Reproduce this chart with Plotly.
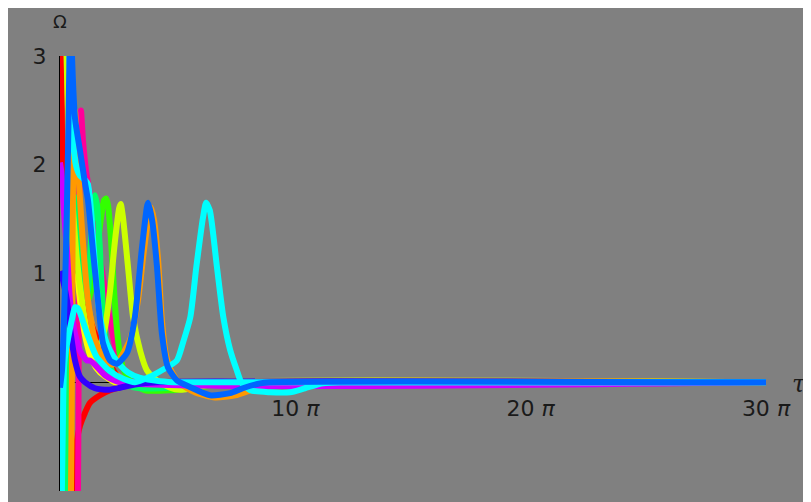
import math
import plotly.graph_objects as go

PI = math.pi
T_END = 30 * PI

# ---- curve data (tau, Omega) ----
red_bottom_tau = [1.6, 1.8, 2.0, 2.27, 2.67, 3.34, 4.0, 5.34, 6.68, 8.01, 10.7, 16.0]
red_bottom_om = [-1.27, -1.0, -0.72, -0.53, -0.40, -0.28, -0.19, -0.12, -0.074, -0.046, -0.018, 0.0]

magenta_tau = [2.27, 2.4, 2.48, 2.56, 2.64, 2.8, 3.07, 3.47, 4.0, 4.67, 5.34, 6.0, 6.68, 7.34, 8.68, 10.0, 12.0, 16.0, 22.7]
magenta_om = [-1.27, -1.0, 0.0, 1.21, 2.22, 2.5, 2.22, 1.95, 1.72, 1.44, 1.14, 0.85, 0.57, 0.34, 0.11, 0.01, -0.046, -0.028, 0.0]

orange_top_tau = [0.33, 0.47, 0.67, 0.93, 1.34, 2.0, 2.94, 4.0, 5.34, 6.68, 8.68, 12.0, 18.7]
orange_top_om = [3.33, 3.0, 2.59, 2.23, 1.95, 1.54, 1.03, 0.62, 0.29, 0.13, 0.018, -0.028, 0.0]

yellow_bottom_tau = [1.13, 1.27, 1.36, 1.47, 1.67, 2.0, 2.67, 3.34, 4.27, 5.34, 7.34, 9.35, 13.35, 18.7]
yellow_bottom_om = [-1.27, -1.0, 0.0, 0.94, 1.4, 1.21, 0.75, 0.43, 0.2, 0.09, 0.0, -0.037, -0.028, 0.0]

red_top_tau = [0.07, 0.13, 0.27, 0.40, 0.67, 0.93, 1.34, 1.74, 2.67, 4.0, 5.34, 6.0, 6.94, 8.01, 9.35, 12.0, 16.0, 21.4]
red_top_om = [3.3, 3.0, 2.32, 2.0, 1.77, 1.63, 1.51, 1.38, 0.94, 0.57, 0.34, 0.25, 0.13, 0.02, -0.04, -0.04, -0.01, 0.0]

green_tau = [0.8, 1.0, 1.13, 1.27, 1.47, 1.74, 2.14, 2.67, 3.2, 3.74, 4.27, 4.8, 5.34, 5.87, 6.14, 6.41, 6.81, 7.21, 7.61, 8.01, 8.68, 9.61, 11.35, 14.7, 18.7, 24.0]
green_om = [-1.27, -1.0, -0.17, 0.57, 1.03, 1.17, 1.12, 0.94, 0.75, 0.75, 0.89, 1.12, 1.44, 1.67, 1.69, 1.63, 1.31, 0.85, 0.48, 0.25, 0.09, 0.0, -0.074, -0.074, -0.046, -0.01]

spring_tau = [0.6, 0.73, 0.87, 1.07, 1.34, 1.74, 2.14, 2.54, 2.94, 3.34, 3.74, 4.14, 4.47, 4.67, 4.94, 5.34, 5.74, 6.14, 6.68, 7.34, 8.68, 10.7, 13.35, 17.4, 22.7]
spring_om = [-1.27, -1.0, -0.17, 0.75, 1.4, 1.72, 1.67, 1.31, 0.94, 0.75, 0.85, 1.31, 1.67, 1.72, 1.63, 1.21, 0.66, 0.34, 0.16, 0.037, -0.028, -0.055, -0.055, -0.037, -0.01]

lime_tau = [0.73, 0.87, 1.07, 1.34, 1.74, 2.27, 2.94, 3.74, 4.67, 5.34, 6.0, 6.68, 7.34, 7.9, 8.1, 8.4, 9.08, 9.75, 10.7, 11.6, 12.95, 14.7, 16.0, 18.7, 21.4]
lime_om = [3.3, 3.0, 2.5, 2.04, 1.58, 1.12, 0.75, 0.44, 0.33, 0.35, 0.5, 0.84, 1.3, 1.6, 1.64, 1.52, 1.06, 0.6, 0.29, 0.11, 0.018, -0.05, -0.07, -0.04, 0.0]

orange_peak_tau = [1.34, 1.47, 1.58, 1.67, 1.8, 2.0, 2.27, 2.94, 3.74, 4.67, 6.0, 6.94, 8.01, 9.35, 10.4, 11.2, 11.9, 12.15, 12.55, 13.1, 13.6, 14.15, 14.95, 16.0, 18.0, 20.7, 23.4, 25.4, 27.4, 29.4]
orange_peak_om = [-1.27, -1.0, 0.0, 1.21, 2.22, 2.5, 2.13, 1.4, 0.75, 0.39, 0.2, 0.16, 0.22, 0.39, 0.75, 1.21, 1.56, 1.61, 1.49, 1.12, 0.57, 0.25, 0.09, -0.01, -0.092, -0.14, -0.12, -0.074, -0.028, 0.0]

purple_tau = [0.0, 0.2, 0.5, 0.93, 1.34, 2.0, 2.67, 3.6, 4.0, 4.67, 6.0, 8.0]
purple_om = [2.02, 1.92, 1.6, 1.21, 0.75, 0.45, 0.29, 0.2, 0.2, 0.16, 0.064, 0.0]

blue_tau = [0.0, 0.27, 0.93, 1.34, 2.0, 2.67, 3.34, 4.67, 6.4, 8.0, 10.0, 13.0]
blue_om = [1.02, 0.97, 0.75, 0.5, 0.2, 0.05, 0.0, -0.055, -0.07, -0.05, -0.02, 0.0]

cyan_top_tau = [1.14, 1.27, 1.47, 1.74, 2.14, 2.67, 3.34, 3.74, 4.14, 4.54, 4.94, 5.34, 5.88, 6.68, 7.74, 9.08, 10.7, 13.35, 16.0]
cyan_top_om = [3.3, 3.0, 2.59, 2.22, 1.99, 1.9, 1.86, 1.82, 1.58, 1.21, 0.84, 0.61, 0.43, 0.29, 0.18, 0.09, 0.04, 0.01, 0.0]

cyan_peak_tau = [0.1, 0.25, 0.4, 0.55, 0.8, 1.07, 1.6, 2.0, 2.4, 3.6, 4.9, 6.7, 8.5, 10.0, 12.0, 13.6, 15.6, 16.4, 17.4, 18.2, 19.1, 19.5, 20.0, 20.95, 21.8, 22.7, 23.6, 24.2, 25.4, 28.0, 30.7, 32.7, 35.1, 37.4]
cyan_peak_om = [-1.3, -1.0, -0.3, 0.15, 0.3, 0.4, 0.58, 0.69, 0.68, 0.45, 0.23, 0.1, 0.03, 0.0, 0.05, 0.11, 0.2, 0.36, 0.6, 1.06, 1.52, 1.65, 1.58, 1.06, 0.6, 0.3, 0.11, 0.0, -0.074, -0.092, -0.092, -0.055, -0.01, 0.0]

azure_tau = [0.0, 0.27, 0.53, 0.8, 1.07, 1.27, 1.45, 1.6, 2.0, 2.67, 3.34, 3.74, 4.4, 5.07, 5.74, 6.68, 7.61, 8.95, 10.0, 10.9, 11.6, 11.75, 12.3, 12.95, 13.6, 14.4, 15.6, 17.4, 20.0, 22.7, 24.4, 26.7, 28.0]
azure_om = [-0.05, 0.11, 0.57, 1.21, 2.13, 3.0, 3.4, 3.0, 2.43, 2.13, 1.83, 1.67, 1.21, 0.75, 0.36, 0.2, 0.17, 0.27, 0.6, 1.21, 1.61, 1.65, 1.49, 1.06, 0.45, 0.14, 0.018, -0.046, -0.12, -0.10, -0.055, -0.01, 0.0]

curves = [
    (red_bottom_tau, red_bottom_om, "#ff0000"),
    (magenta_tau, magenta_om, "#ff0099"),
    (orange_top_tau, orange_top_om, "#ff9900"),
    (yellow_bottom_tau, yellow_bottom_om, "#ffff00"),
    (red_top_tau, red_top_om, "#ff0000"),
    (green_tau, green_om, "#33ff00"),
    (spring_tau, spring_om, "#00ff66"),
    (lime_tau, lime_om, "#ccff00"),
    (orange_peak_tau, orange_peak_om, "#ff9900"),
    (purple_tau, purple_om, "#cc00ff"),
    (blue_tau, blue_om, "#3300ff"),
    (cyan_top_tau, cyan_top_om, "#00ffff"),
    (cyan_peak_tau, cyan_peak_om, "#00ffff"),
    (azure_tau, azure_om, "#0066ff"),
]

x_tick_vals = [10 * PI, 20 * PI, 30 * PI]
x_tick_text = ["10 <i>π</i>", "20 <i>π</i>", "30 <i>π</i>"]
y_tick_vals = [-1, 1, 2, 3]
y_tick_text = ["−1", "1", "2", "3"]

fig = go.Figure()
for t, w, c in curves:
    fig.add_trace(go.Scatter(
        x=list(t) + [T_END], y=list(w) + [0.0], mode="lines",
        line=dict(color=c, width=6, shape="spline", smoothing=0.6),
        hoverinfo="skip", showlegend=False))

GRAY = "#808080"
tickfont = dict(family="DejaVu Sans", size=22, color="#1a1a1a")
# page body has an 8px margin, so the figure is sized to fit the window
W, H = 803, 494
L, R, T, B = 52, 45, 48, 11

fig.update_layout(
    width=W, height=H,
    margin=dict(l=L, r=R, t=T, b=B, pad=0),
    paper_bgcolor=GRAY, plot_bgcolor=GRAY,
    showlegend=False,
    xaxis=dict(range=[0, T_END], tickvals=x_tick_vals, ticktext=x_tick_text,
               showgrid=False, zeroline=False, showline=True, linecolor="black",
               linewidth=1, ticks="inside", ticklen=4, tickcolor="black",
               anchor="free", position=0.25, tickfont=tickfont,
               layer="below traces", ticklabelstandoff=6, fixedrange=True),
    yaxis=dict(range=[-1, 3], tickvals=y_tick_vals, ticktext=y_tick_text,
               showgrid=False, zeroline=False, showline=True, linecolor="black",
               linewidth=1, ticks="inside", ticklen=4, tickcolor="black",
               tickfont=tickfont, layer="below traces", ticklabelstandoff=8,
               fixedrange=True),
    annotations=[
        dict(text="Ω", x=0, xref="x", y=1, yref="paper", xanchor="center",
             yanchor="middle", yshift=35, showarrow=False,
             font=dict(family="DejaVu Sans", size=18, color="#1a1a1a")),
        dict(text="<i>τ</i>", x=T_END, xref="x", y=0, yref="y", xanchor="left",
             yanchor="middle", xshift=24, yshift=-2, showarrow=False,
             font=dict(family="DejaVu Serif", size=24, color="#1a1a1a")),
    ],
)

fig.write_html("out.html", config=dict(displayModeBar=False))
